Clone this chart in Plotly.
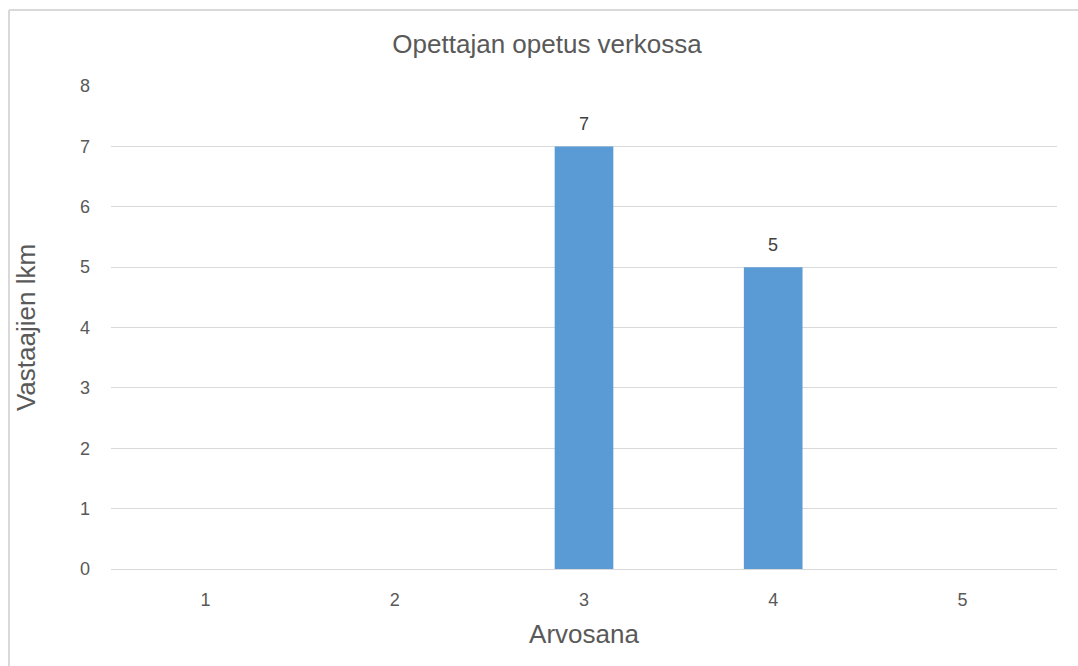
import plotly.graph_objects as go

# Grade distribution for online teaching
grades = [1, 2, 3, 4, 5]
counts = [0, 0, 7, 5, 0]
y_ticks = [0, 1, 2, 3, 4, 5, 6, 7, 8]

title_text = "Opettajan opetus verkossa"
x_title = "Arvosana"
y_title = "Vastaajien lkm"

W, H = 1078, 666
ML, MR, MT, MB = 111, 21, 86, 97
pw, ph = W - ML - MR, H - MT - MB

FONT = "Liberation Sans, Arial"
GREY = "#595959"

fig = go.Figure(
    go.Bar(
        x=grades,
        y=counts,
        marker=dict(color="#5B9BD5", line=dict(width=0)),
        width=0.31,
        hoverinfo="x+y",
    )
)

# value labels above non-zero bars
for g, v in zip(grades, counts):
    if v:
        fig.add_annotation(x=g, y=v, xref="x", yref="y", text=str(v),
                           showarrow=False, yanchor="middle", yshift=22,
                           font=dict(family=FONT, size=18, color="#404040"))

# chart frame (top and left edges visible)
fx0 = (9 - ML) / pw
fy1 = 1 + (MT - 10) / ph
fig.add_shape(type="line", xref="paper", yref="paper", x0=fx0, x1=fx0 + 2,
              y0=fy1, y1=fy1, line=dict(color="#D9D9D9", width=2))
fig.add_shape(type="line", xref="paper", yref="paper", x0=fx0, x1=fx0,
              y0=fy1, y1=-1, line=dict(color="#D9D9D9", width=2))

fig.update_layout(
    width=W,
    height=H,
    margin=dict(l=ML, r=MR, t=MT, b=MB),
    paper_bgcolor="white",
    plot_bgcolor="white",
    showlegend=False,
    title=dict(
        text=title_text,
        x=(547 - ML) / pw, xref="paper", xanchor="center",
        y=1 - 44 / H, yanchor="middle",
        font=dict(family=FONT, size=26, color=GREY),
    ),
    xaxis=dict(
        type="linear",
        range=[0.5, 5.5],
        tickvals=grades,
        title=dict(text=x_title, standoff=16,
                   font=dict(family=FONT, size=26, color=GREY)),
        tickfont=dict(family=FONT, size=18, color=GREY),
        ticks="",
        showgrid=False,
        zeroline=False,
        showline=True, linecolor="#D9D9D9", linewidth=1,
        ticklabelstandoff=14,
    ),
    yaxis=dict(
        title=dict(text=y_title, standoff=36,
                   font=dict(family=FONT, size=26, color=GREY)),
        range=[0, 8],
        tickvals=y_ticks,
        tickfont=dict(family=FONT, size=18, color=GREY),
        ticks="",
        showgrid=True, gridcolor="#D9D9D9", gridwidth=1,
        zeroline=False,
        showline=False,
        ticklabelstandoff=20,
    ),
)

fig.write_html("out.html")
